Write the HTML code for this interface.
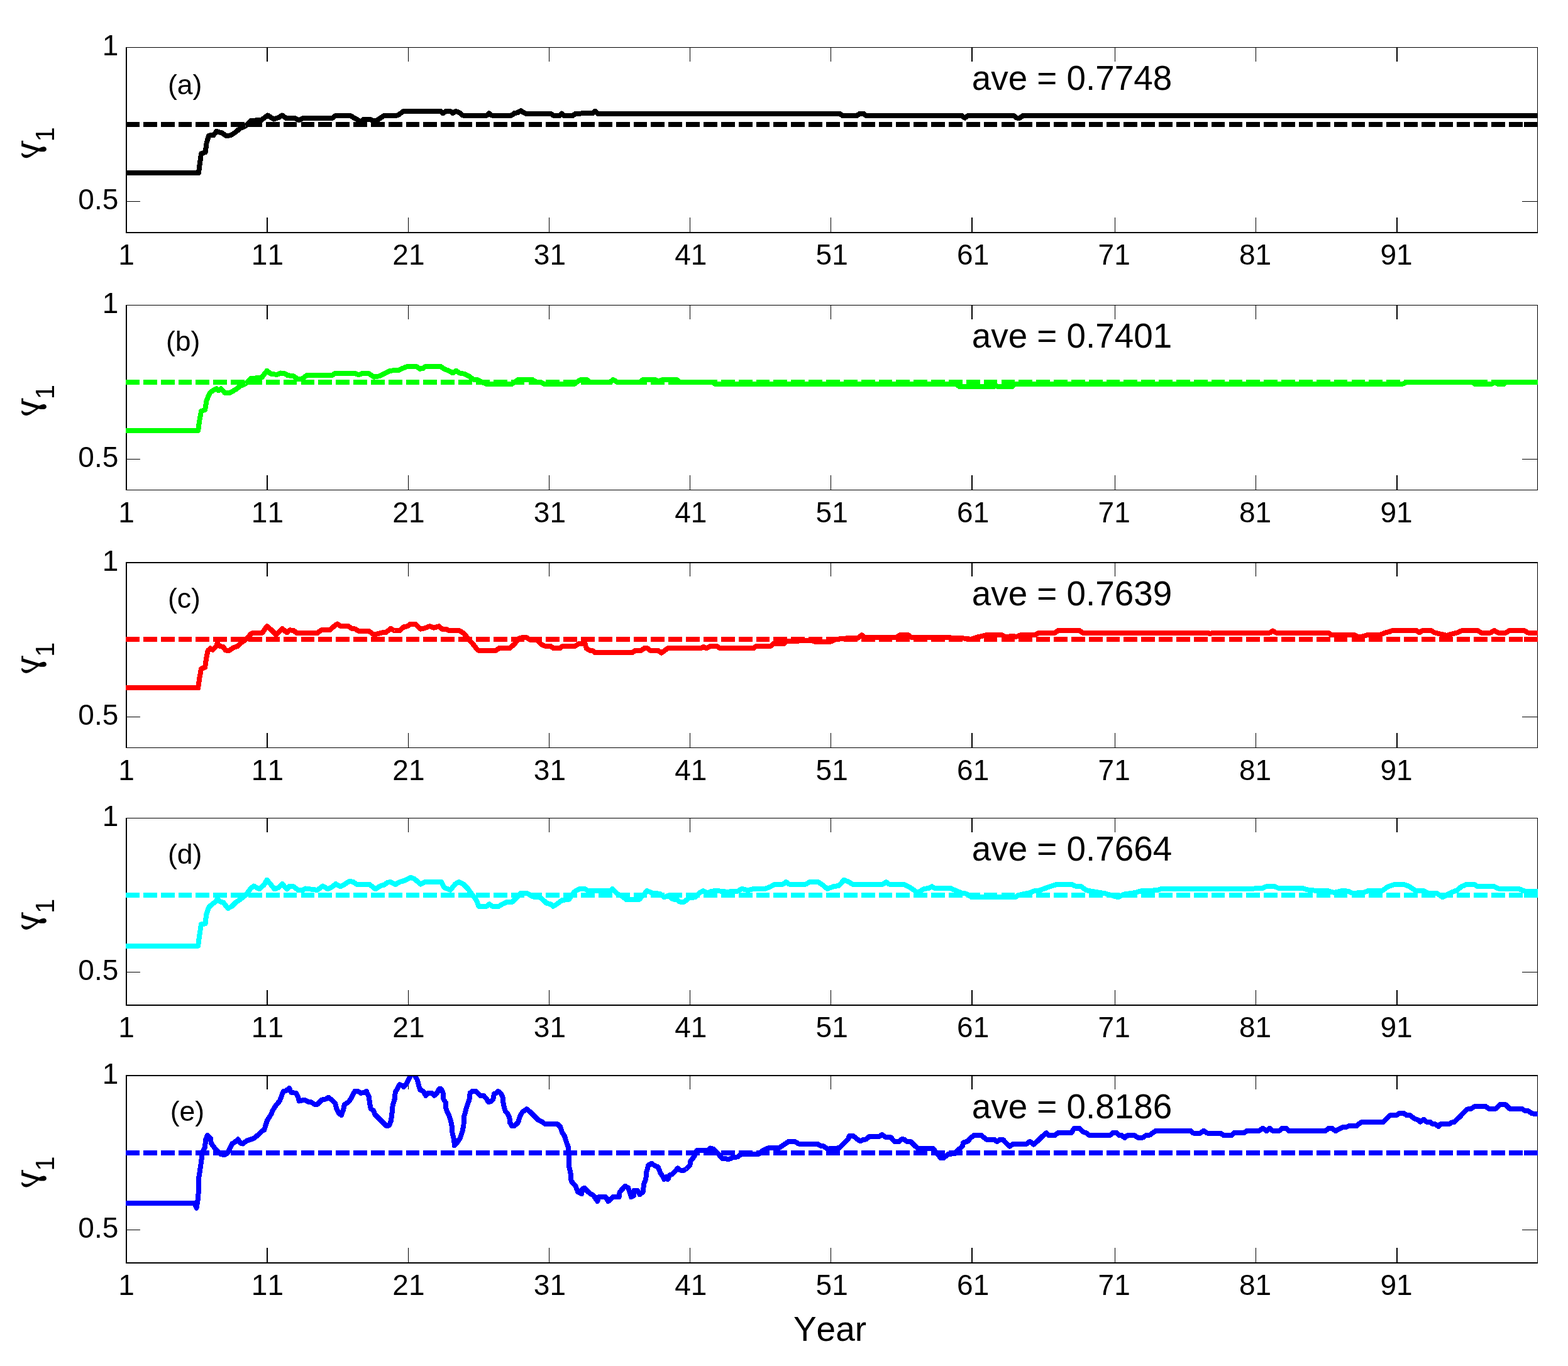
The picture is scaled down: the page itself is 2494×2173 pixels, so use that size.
<!DOCTYPE html>
<html lang="en">
<head>
<meta charset="utf-8">
<title>gamma1 by Year</title>
<style>
html,body{margin:0;padding:0;background:#fff;}
body{width:2494px;height:2173px;overflow:hidden;}
svg{display:block;}
text{font-family:"Liberation Sans",sans-serif;fill:#000;font-kerning:none;}
.tick{font-size:46px;}
.lab{font-size:44.5px;}
.ave{font-size:54.8px;}
.xl{font-size:55px;}
.gam{font-family:"DejaVu Serif","Liberation Serif",serif;font-size:54px;}
.sub{font-size:42px;}
.ax{stroke:#000;fill:none;shape-rendering:crispEdges;}
.tk{stroke:#000;stroke-width:1.5;fill:none;shape-rendering:crispEdges;}
.cv{fill:none;stroke-width:8;stroke-linejoin:round;stroke-linecap:butt;shape-rendering:crispEdges;}
.ds{fill:none;stroke-width:8;stroke-dasharray:21.8 6.05;shape-rendering:crispEdges;}
</style>
</head>
<body>
<svg width="2494" height="2173" viewBox="0 0 2494 2173">
<rect x="0" y="0" width="2494" height="2173" fill="#ffffff"/>
<defs>
<clipPath id="c0"><rect x="200.0" y="76.0" width="2246.0" height="293.0"/></clipPath>
<clipPath id="c1"><rect x="200.0" y="486.0" width="2246.0" height="293.0"/></clipPath>
<clipPath id="c2"><rect x="200.0" y="896.0" width="2246.0" height="293.0"/></clipPath>
<clipPath id="c3"><rect x="200.0" y="1302.0" width="2246.0" height="296.0"/></clipPath>
<clipPath id="c4"><rect x="200.0" y="1712.0" width="2246.0" height="296.0"/></clipPath>
</defs>
<g>
<path class="tk" d="M425.0 75.5v22M425.0 370.0v-24M649.3 75.5v22M649.3 370.0v-24M873.5 75.5v22M873.5 370.0v-24M1097.3 75.5v22M1097.3 370.0v-24M1321.3 75.5v22M1321.3 370.0v-24M1545.9 75.5v22M1545.9 370.0v-24M1773.5 75.5v22M1773.5 370.0v-24M1997.5 75.5v22M1997.5 370.0v-24M2221.8 75.5v22M2221.8 370.0v-24"/>
<path class="tk" style="stroke-width:1" d="M201.0 320.5h22M2445.5 320.5h-25"/>
<path class="ax" stroke-width="1" d="M200.0 75.5H2446.0"/>
<path class="ax" stroke-width="2" d="M200.0 370.0H2446.0"/>
<path class="ax" stroke-width="2" d="M201.0 75.5V370.0"/>
<path class="ax" stroke-width="1" d="M2445.5 75.5V370.0"/>
<g clip-path="url(#c0)">
<path class="ds" stroke="#000000" d="M200.0 197.7H2446.0"/>
<path class="ds" style="stroke-dasharray:none" stroke="#000000" d="M2424.0 197.7H2446.0"/>
<polyline class="cv" stroke="#000000" points="200,274.9 315.9,274.9 320,244.2 326.6,242.3 328.6,227.2 332.2,215.6 339.5,215.1 344.4,209 352.9,211.4 360.2,216.3 367.4,215.1 374.7,210.2 382,204.1 390.5,200.5 399,192 416.1,190.8 425.8,183.5 435.5,189.6 442.8,187.1 448.9,183.5 454.9,187.9 469.5,188.3 475.6,191.3 481.7,188.3 527.9,188.3 533.9,184 557,184 569.2,190.8 574.1,193.7 578.9,189.6 588.6,189.6 594.7,192.7 600.8,190.8 610.5,184 632.4,183.5 642.1,176.9 690,176.9 700.7,176.9 704.3,180.3 709.2,176.9 716.5,176.9 720.1,180.3 725,176.9 729.8,178.6 735.9,183.5 774.8,183.5 778,180.3 781.6,183.5 813.7,183.5 818.6,179.8 823.4,179.3 828.3,176.2 835.6,180.6 875.7,180.6 880.5,184 890.3,184 893.4,180.6 896.8,184 910.9,184 915.8,180.6 942.5,180.3 946.7,176.7 951,180.8 1180,180.8 1335.3,180.8 1340.2,184 1363.2,184 1367.4,180.6 1373,180.6 1377.8,184 1529.7,184 1534.6,187.6 1539.5,184 1612.4,184 1617.3,187.6 1622.1,187.6 1627,184 1670,184 2446,184"/>
</g>
<text class="tick" text-anchor="middle" x="201.0" y="421.0">1</text>
<text class="tick" text-anchor="middle" x="425.4" y="421.0">11</text>
<text class="tick" text-anchor="middle" x="649.9" y="421.0">21</text>
<text class="tick" text-anchor="middle" x="874.4" y="421.0">31</text>
<text class="tick" text-anchor="middle" x="1098.8" y="421.0">41</text>
<text class="tick" text-anchor="middle" x="1323.2" y="421.0">51</text>
<text class="tick" text-anchor="middle" x="1547.7" y="421.0">61</text>
<text class="tick" text-anchor="middle" x="1772.2" y="421.0">71</text>
<text class="tick" text-anchor="middle" x="1996.6" y="421.0">81</text>
<text class="tick" text-anchor="middle" x="2221.1" y="421.0">91</text>
<text class="tick" text-anchor="end" x="188.3" y="88.0">1</text>
<text class="tick" text-anchor="end" x="188.3" y="333.1">0.5</text>
<g transform="translate(0 0.0)">
<text class="gam" text-anchor="end" transform="translate(63 254) rotate(-90) scale(-1 1)">γ</text>
<text class="sub" transform="translate(86 225.5) rotate(-90)">1</text>
</g>
<text class="lab" x="267.0" y="150.3">(a)</text>
<text class="ave" x="1545.8" y="143.2">ave = 0.7748</text>
</g>
<g>
<path class="tk" d="M425.0 485.5v22M425.0 779.5v-24M649.3 485.5v22M649.3 779.5v-24M873.5 485.5v22M873.5 779.5v-24M1097.3 485.5v22M1097.3 779.5v-24M1321.3 485.5v22M1321.3 779.5v-24M1545.9 485.5v22M1545.9 779.5v-24M1773.5 485.5v22M1773.5 779.5v-24M1997.5 485.5v22M1997.5 779.5v-24M2221.8 485.5v22M2221.8 779.5v-24"/>
<path class="tk" style="stroke-width:1" d="M201.0 730.5h22M2445.5 730.5h-25"/>
<path class="ax" stroke-width="1" d="M200.0 485.5H2446.0"/>
<path class="ax" stroke-width="1" d="M200.0 779.5H2446.0"/>
<path class="ax" stroke-width="2" d="M201.0 485.5V779.5"/>
<path class="ax" stroke-width="1" d="M2445.5 485.5V779.5"/>
<g clip-path="url(#c1)">
<path class="ds" stroke="#00ff00" d="M200.0 607.8H2446.0"/>
<path class="ds" style="stroke-dasharray:none" stroke="#00ff00" d="M2424.0 607.8H2446.0"/>
<polyline class="cv" stroke="#00ff00" points="200,684.9 315.2,684.9 316.9,671.3 320,654.2 326.1,651.8 328.6,637.2 333.4,625.6 338.3,621.4 344.4,618.3 348,621.4 351.6,618.3 357.7,625.1 366.2,624.6 374.7,619.7 382,614.1 390.5,610.5 399,602 416.1,600.8 424.6,589.8 430.6,594.7 440.4,595.9 446.4,593.5 452.5,594 457.4,597.1 467.1,598.3 473.2,602.7 480.5,602.7 487.8,597.1 527.9,597.1 533.9,593.5 564.3,593.5 570.4,596.4 576.5,594 586.2,594 594.7,599.6 603.2,598.3 612.9,593.5 620.2,589.8 634.8,588.6 639.7,586.2 649.4,582.5 661.6,582.5 667.6,586.7 672.5,586.2 676.1,583.3 690,583.3 700.7,583 706.7,586.9 714,589.8 720.1,593.5 725.7,589.8 731,593.5 738.3,594.7 745.6,598.3 752.9,603.7 760.2,604.4 767.5,608.1 773.6,611 779.7,611 813.7,611 818.6,607.6 824.6,603.9 846.5,603.9 852.6,607.6 859.9,608.1 866,611.2 913.3,611.2 917,608.1 923.1,604.4 927.9,603.7 934,604.4 937.7,607.8 970.5,607.8 975.3,603.9 981.4,607.8 1017.9,607.8 1022.7,603.9 1042.2,603.9 1047,606.8 1054.3,603.9 1076.2,603.9 1081.1,607.8 1133.3,607.8 1138.2,611.2 1180,611.2 1335.3,611.2 1337.7,610.5 1520,610.5 1526.1,615.1 1580.8,615.1 1583.2,612.9 1586.9,615.1 1610,615.1 1614.8,610.5 1670,610.5 2232.2,610.5 2237.1,607.8 2341.6,607.8 2346.5,611.2 2372,611.2 2378.1,607.8 2382.9,611.2 2391.4,611.2 2395.1,607.8 2446,607.8"/>
</g>
<text class="tick" text-anchor="middle" x="201.0" y="830.5">1</text>
<text class="tick" text-anchor="middle" x="425.4" y="830.5">11</text>
<text class="tick" text-anchor="middle" x="649.9" y="830.5">21</text>
<text class="tick" text-anchor="middle" x="874.4" y="830.5">31</text>
<text class="tick" text-anchor="middle" x="1098.8" y="830.5">41</text>
<text class="tick" text-anchor="middle" x="1323.2" y="830.5">51</text>
<text class="tick" text-anchor="middle" x="1547.7" y="830.5">61</text>
<text class="tick" text-anchor="middle" x="1772.2" y="830.5">71</text>
<text class="tick" text-anchor="middle" x="1996.6" y="830.5">81</text>
<text class="tick" text-anchor="middle" x="2221.1" y="830.5">91</text>
<text class="tick" text-anchor="end" x="188.3" y="498.0">1</text>
<text class="tick" text-anchor="end" x="188.3" y="743.1">0.5</text>
<g transform="translate(0 409.8)">
<text class="gam" text-anchor="end" transform="translate(63 254) rotate(-90) scale(-1 1)">γ</text>
<text class="sub" transform="translate(86 225.5) rotate(-90)">1</text>
</g>
<text class="lab" x="264.0" y="557.8">(b)</text>
<text class="ave" x="1545.8" y="553.2">ave = 0.7401</text>
</g>
<g>
<path class="tk" d="M425.0 895.0v22M425.0 1189.5v-24M649.3 895.0v22M649.3 1189.5v-24M873.5 895.0v22M873.5 1189.5v-24M1097.3 895.0v22M1097.3 1189.5v-24M1321.3 895.0v22M1321.3 1189.5v-24M1545.9 895.0v22M1545.9 1189.5v-24M1773.5 895.0v22M1773.5 1189.5v-24M1997.5 895.0v22M1997.5 1189.5v-24M2221.8 895.0v22M2221.8 1189.5v-24"/>
<path class="tk" style="stroke-width:1" d="M201.0 1140.5h22M2445.5 1140.5h-25"/>
<path class="ax" stroke-width="2" d="M200.0 895.0H2446.0"/>
<path class="ax" stroke-width="1" d="M200.0 1189.5H2446.0"/>
<path class="ax" stroke-width="2" d="M201.0 895.0V1189.5"/>
<path class="ax" stroke-width="1" d="M2445.5 895.0V1189.5"/>
<g clip-path="url(#c2)">
<path class="ds" stroke="#ff0000" d="M200.0 1016.8H2446.0"/>
<path class="ds" style="stroke-dasharray:none" stroke="#ff0000" d="M2424.0 1016.8H2446.0"/>
<polyline class="cv" stroke="#ff0000" points="200,1094.4 315.2,1094.4 316.9,1081.3 320,1063.8 326.1,1061.8 328.1,1047.2 330.5,1035.1 334.6,1031.4 338.3,1033.9 344.4,1027.8 345.6,1022.9 349.2,1027.8 355.3,1029 358.9,1034.6 365,1034.6 371.1,1030.2 377.2,1028.3 383.2,1022.9 391.8,1016.8 399,1008.3 401.5,1007.1 417.3,1006.6 424.6,996.2 431.9,1002.3 439.1,1009.6 448.9,999.8 456.2,1006.4 461,1002.3 467.1,1003 472,1007.1 504.8,1007.1 510.9,1002.3 524.2,1002.3 529.1,998.1 536.4,992.5 541.2,995.7 553.4,995.7 559.5,999.8 565.5,1000.6 569.2,1003.5 586.2,1003.5 594.7,1009.6 600.8,1008.3 608.1,1006.4 614.2,1005.9 621.5,999.8 627.5,1003.5 636,1003 642.1,997.4 648.2,996.2 653.1,992.5 660.3,992.5 668.9,1000.6 676.1,999.1 683.4,996.2 690,998.6 692.2,998.1 698.2,996.2 704.3,1001.5 709.2,1000.6 712.8,1002.7 729.8,1002.7 737.1,1007.1 745.6,1016.8 752.9,1025.4 760.2,1034.6 789.4,1034.6 794.2,1030.9 811.3,1030.9 818.6,1024.1 825.8,1015.6 831.9,1013.7 838,1014.4 842.9,1017.6 853.8,1018.1 861.1,1025.4 867.2,1027.8 875.7,1027.8 880.5,1031.4 890.3,1031.4 895.1,1027.8 914.6,1027.8 920.6,1024.1 930.4,1023.4 932.8,1031.4 937.7,1034.6 942.5,1035.1 946.2,1038.2 1005.7,1038.2 1010.6,1034.6 1020.3,1034.6 1025.2,1030.7 1030,1031.4 1034.9,1035.1 1047,1035.1 1051.9,1038.7 1056.8,1035.1 1062.8,1030.9 1115.1,1030.9 1119.5,1029 1123.6,1031.4 1129.7,1028.3 1140.6,1028.3 1145.5,1031.4 1180,1031.4 1199.2,1030.9 1202.8,1027.8 1225.9,1027.8 1229.6,1024.1 1246.6,1024.1 1250.2,1020.5 1291.5,1018.5 1295.2,1020.5 1321.9,1020.5 1328,1017.6 1340.2,1015.6 1364.5,1015.1 1370.5,1010.3 1376.6,1014.4 1425.2,1014.4 1431.3,1010.3 1444.7,1010.3 1449.5,1013.7 1510.3,1014.4 1534.6,1015.6 1544.3,1016.8 1554.1,1013.7 1568.6,1010.3 1592.9,1009.8 1600.2,1013.7 1607.5,1012 1617.3,1012.7 1624.5,1009.8 1646.4,1009.8 1651.3,1007.1 1670,1007.1 1678.2,1006.6 1683.1,1003 1717.1,1003 1722,1006.6 1921.3,1006.6 1924.9,1008.3 1928.6,1006.6 2019.7,1006.6 2024.6,1003.5 2029.5,1006.6 2112.1,1006.6 2118.2,1010 2153.4,1010 2154.4,1010 2161.7,1013.7 2169,1012 2175.1,1010 2195.8,1009.6 2203,1006.6 2210.3,1004.7 2215.2,1003 2252.9,1003 2257.7,1006.4 2262.6,1003 2276,1003 2282,1006.4 2289.3,1008.3 2301.5,1010.8 2310,1008.3 2317.3,1006.6 2325.8,1003 2350.1,1003 2356.2,1006.6 2370.8,1006.6 2376.8,1003 2382.9,1006.6 2395.1,1006.6 2401.1,1003 2424.2,1003 2430.3,1006.6 2446,1006.6"/>
</g>
<text class="tick" text-anchor="middle" x="201.0" y="1240.5">1</text>
<text class="tick" text-anchor="middle" x="425.4" y="1240.5">11</text>
<text class="tick" text-anchor="middle" x="649.9" y="1240.5">21</text>
<text class="tick" text-anchor="middle" x="874.4" y="1240.5">31</text>
<text class="tick" text-anchor="middle" x="1098.8" y="1240.5">41</text>
<text class="tick" text-anchor="middle" x="1323.2" y="1240.5">51</text>
<text class="tick" text-anchor="middle" x="1547.7" y="1240.5">61</text>
<text class="tick" text-anchor="middle" x="1772.2" y="1240.5">71</text>
<text class="tick" text-anchor="middle" x="1996.6" y="1240.5">81</text>
<text class="tick" text-anchor="middle" x="2221.1" y="1240.5">91</text>
<text class="tick" text-anchor="end" x="188.3" y="907.5">1</text>
<text class="tick" text-anchor="end" x="188.3" y="1152.6">0.5</text>
<g transform="translate(0 819.5)">
<text class="gam" text-anchor="end" transform="translate(63 254) rotate(-90) scale(-1 1)">γ</text>
<text class="sub" transform="translate(86 225.5) rotate(-90)">1</text>
</g>
<text class="lab" x="267.0" y="966.9">(c)</text>
<text class="ave" x="1545.8" y="962.7">ave = 0.7639</text>
</g>
<g>
<path class="tk" d="M425.0 1301.5v22M425.0 1599.0v-24M649.3 1301.5v22M649.3 1599.0v-24M873.5 1301.5v22M873.5 1599.0v-24M1097.3 1301.5v22M1097.3 1599.0v-24M1321.3 1301.5v22M1321.3 1599.0v-24M1545.9 1301.5v22M1545.9 1599.0v-24M1773.5 1301.5v22M1773.5 1599.0v-24M1997.5 1301.5v22M1997.5 1599.0v-24M2221.8 1301.5v22M2221.8 1599.0v-24"/>
<path class="tk" style="stroke-width:1" d="M201.0 1546.5h22M2445.5 1546.5h-25"/>
<path class="ax" stroke-width="1" d="M200.0 1301.5H2446.0"/>
<path class="ax" stroke-width="2" d="M200.0 1599.0H2446.0"/>
<path class="ax" stroke-width="2" d="M201.0 1301.5V1599.0"/>
<path class="ax" stroke-width="1" d="M2445.5 1301.5V1599.0"/>
<g clip-path="url(#c3)">
<path class="ds" stroke="#00ffff" d="M200.0 1423.9H2446.0"/>
<path class="ds" style="stroke-dasharray:none" stroke="#00ffff" d="M2424.0 1423.9H2446.0"/>
<polyline class="cv" stroke="#00ffff" points="200,1504.6 315.2,1504.6 316.9,1490.5 320,1470.3 326.6,1469.3 328.1,1455.2 332.2,1443.1 337.1,1438.7 341.9,1435.3 345.6,1430.4 350.4,1434.6 355.3,1435.8 362.6,1445 368.7,1441.9 374.7,1435.8 382,1430.9 391.8,1423.1 399,1412.7 403.9,1409.5 412.4,1414.4 419.7,1407.8 424.6,1399.8 429.4,1405.4 436.7,1414.4 442.8,1412 448.9,1406.1 456.2,1414.4 461,1409.5 467.1,1410.3 474.4,1416.3 481.7,1416.3 485.3,1413.4 504.8,1415.9 513.3,1409.5 521.8,1414.4 529.1,1410.3 533.9,1406.1 541.2,1410.3 548.5,1406.6 555.8,1401.8 561.9,1403 566.8,1406.6 587.4,1406.6 597.1,1414.4 604.4,1409.5 610.5,1407.8 616.6,1403.7 621.5,1403 628.7,1407.1 636,1403 644.5,1400.5 653.1,1395.7 659.1,1398.1 668.9,1406.6 676.1,1403 690,1403 701.9,1403 706.7,1412 716.5,1415.9 723.8,1406.6 729.8,1403 737.1,1406.6 744.4,1413.9 750.5,1422.4 757.8,1432.1 761.4,1441.9 773.6,1441.9 778.4,1438.2 783.3,1441.9 793,1441.9 799.1,1438.2 805.2,1435.3 814.9,1434.6 822.2,1427.3 828.3,1420.7 838,1420.7 847.7,1426.5 859.9,1427.8 869.6,1437 875.7,1438.2 879.8,1441.9 886.6,1437.7 893.9,1432.1 904.8,1430.9 913.3,1418.8 921.9,1413.9 930.4,1413.9 935.2,1417.1 970.5,1417.1 974.1,1413.9 981.4,1421.7 989.9,1426.1 996,1430.9 1016.7,1430.9 1025.2,1421.7 1028.8,1416.8 1037.3,1420.7 1049.5,1421.7 1056.8,1427.3 1062.8,1424.8 1070.1,1430.4 1076.2,1430.9 1081.1,1434.6 1088.4,1434.6 1095.7,1428.5 1105.4,1427.3 1112.7,1420 1118.7,1417.1 1124.8,1420.7 1132.1,1417.6 1141.8,1417.1 1156.4,1418.8 1173.4,1417.6 1180,1413.9 1189.4,1416.3 1199.2,1413.9 1216.2,1414.4 1225.9,1410.3 1233.2,1406.6 1245.4,1406.6 1250.2,1403 1255.1,1406.6 1281.8,1406.6 1287.9,1403 1301.3,1403 1308.6,1407.8 1315.8,1413.9 1325.6,1410.3 1334.1,1409 1342.6,1399.8 1349.9,1403 1356,1406.6 1404.6,1406.6 1409.4,1403 1414.3,1406.6 1437.4,1406.6 1447.1,1411.5 1459.3,1420 1469,1414.4 1477.5,1412.7 1482.3,1410.3 1487.2,1413.4 1512.7,1413.4 1522.5,1417.6 1529.7,1420.7 1537,1421.7 1545.5,1427.3 1614.8,1427.3 1619.7,1424.1 1629.4,1421.7 1636.7,1420.7 1644,1417.6 1653.7,1416.3 1663.4,1412.7 1670,1410.3 1681.9,1406.6 1703.8,1406.6 1711,1409.8 1719.6,1410.3 1728.1,1416.3 1735.4,1417.6 1757.2,1421.2 1769.4,1424.8 1777.9,1427.3 1788.8,1422.4 1805.8,1420 1815.6,1417.1 1839.9,1416.3 1847.2,1413.9 1951.7,1413.9 2007.6,1413.4 2014.9,1409.8 2027,1409.8 2034.3,1413.4 2073.2,1413.4 2082.9,1416.3 2112.1,1417.1 2121.8,1420 2134,1417.1 2143.7,1417.6 2151,1420.7 2154.4,1420.7 2169,1420 2176.3,1417.1 2198.2,1417.1 2207.9,1410.3 2217.6,1407.1 2233.4,1407.1 2241.9,1410.3 2251.7,1417.1 2263.8,1417.1 2271.1,1420.7 2285.7,1421.2 2294.9,1427.3 2307.6,1420 2317.3,1416.3 2324.6,1410.3 2331.9,1407.1 2345.2,1407.1 2350.1,1410.3 2376.8,1410.3 2385.3,1414.4 2416.9,1414.4 2425.5,1417.6 2446,1417.6"/>
</g>
<text class="tick" text-anchor="middle" x="201.0" y="1650.0">1</text>
<text class="tick" text-anchor="middle" x="425.4" y="1650.0">11</text>
<text class="tick" text-anchor="middle" x="649.9" y="1650.0">21</text>
<text class="tick" text-anchor="middle" x="874.4" y="1650.0">31</text>
<text class="tick" text-anchor="middle" x="1098.8" y="1650.0">41</text>
<text class="tick" text-anchor="middle" x="1323.2" y="1650.0">51</text>
<text class="tick" text-anchor="middle" x="1547.7" y="1650.0">61</text>
<text class="tick" text-anchor="middle" x="1772.2" y="1650.0">71</text>
<text class="tick" text-anchor="middle" x="1996.6" y="1650.0">81</text>
<text class="tick" text-anchor="middle" x="2221.1" y="1650.0">91</text>
<text class="tick" text-anchor="end" x="188.3" y="1314.0">1</text>
<text class="tick" text-anchor="end" x="188.3" y="1559.1">0.5</text>
<g transform="translate(0 1227.5)">
<text class="gam" text-anchor="end" transform="translate(63 254) rotate(-90) scale(-1 1)">γ</text>
<text class="sub" transform="translate(86 225.5) rotate(-90)">1</text>
</g>
<text class="lab" x="267.0" y="1373.7">(d)</text>
<text class="ave" x="1545.8" y="1369.2">ave = 0.7664</text>
</g>
<g>
<path class="tk" d="M425.0 1711.0v22M425.0 2009.0v-24M649.3 1711.0v22M649.3 2009.0v-24M873.5 1711.0v22M873.5 2009.0v-24M1097.3 1711.0v22M1097.3 2009.0v-24M1321.3 1711.0v22M1321.3 2009.0v-24M1545.9 1711.0v22M1545.9 2009.0v-24M1773.5 1711.0v22M1773.5 2009.0v-24M1997.5 1711.0v22M1997.5 2009.0v-24M2221.8 1711.0v22M2221.8 2009.0v-24"/>
<path class="tk" style="stroke-width:1" d="M201.0 1956.5h22M2445.5 1956.5h-25"/>
<path class="ax" stroke-width="2" d="M200.0 1711.0H2446.0"/>
<path class="ax" stroke-width="2" d="M200.0 2009.0H2446.0"/>
<path class="ax" stroke-width="2" d="M201.0 1711.0V2009.0"/>
<path class="ax" stroke-width="1" d="M2445.5 1711.0V2009.0"/>
<g clip-path="url(#c4)">
<path class="ds" stroke="#0000ff" d="M200.0 1834.2H2446.0"/>
<path class="ds" style="stroke-dasharray:none" stroke="#0000ff" d="M2424.0 1834.2H2446.0"/>
<polyline class="cv" stroke="#0000ff" points="200,1913.9 309.6,1913.9 312.5,1921.7 315.4,1904.2 316,1875 319.3,1853.6 322.2,1832.2 326.1,1824.5 327.1,1812.8 330,1806 334.9,1810.8 335.8,1818.6 340.7,1825.4 345.6,1830.3 351.4,1836.1 357.2,1837.1 362.1,1834.2 366,1826.4 368.9,1819.6 373.8,1816.7 378.6,1812.4 382.5,1818.6 386.4,1819.6 392.2,1814.7 398.1,1812.8 403.9,1810.8 409.7,1806 415.6,1800.1 420.4,1797.2 422.4,1790.4 425.3,1781.7 431.1,1772.9 434,1766.1 438.9,1758.3 444.7,1751.5 447.7,1743.8 450.6,1736 455.4,1735 459.9,1731.1 463.2,1737.9 471,1738.9 473.9,1744.7 475.9,1751.5 479.7,1750.6 484.6,1749.6 489.5,1752.5 495.3,1753.5 500.2,1756.8 505,1756.8 508.9,1752.5 511.8,1749.6 517.7,1748.6 522.5,1745.7 527.4,1749.6 533.2,1755.4 535.2,1763.2 539.1,1771 542.9,1773.9 545.9,1766.1 547.8,1757.4 553.6,1753.5 558.5,1747.6 561.4,1740.8 564.3,1736 569.2,1736 574.1,1738.9 578.9,1737.9 582.8,1736 586.7,1744.7 588.6,1758.3 590,1764.2 593.6,1766.1 596.5,1772.9 603.3,1779.7 609.2,1785.6 615,1791.4 618.9,1790.4 621.8,1783.6 623.2,1773.9 624.7,1758.3 628.2,1746.7 628.6,1737.9 632.5,1731.1 635.4,1725.3 640.3,1727.2 642.2,1729.2 647.1,1723.3 651,1714.6 654.9,1707.8 659.7,1710.7 663.6,1717.5 666.5,1728.2 668.5,1734 673.3,1736 677.2,1742.8 681.1,1738.9 687,1738.9 690.8,1742.8 695.7,1737.9 698.6,1732.1 701.5,1732.1 704.5,1737.9 705.4,1748.6 709.3,1754.4 709.5,1764.2 714.2,1774.9 717.1,1783.6 719,1793.3 719.6,1803.1 722,1812.8 722.9,1822.5 727.8,1816.7 731.7,1810.8 735.6,1799.2 737.5,1789.5 737.7,1777.8 741.4,1764.2 745.3,1752.5 747.2,1746.7 747.6,1738.9 751.1,1736 757,1736 763.8,1742.8 769.6,1743.2 774.5,1748.6 776.4,1752.9 780.3,1752.5 784.2,1748.6 786.1,1739.9 789,1738.9 792.3,1736 796.8,1739.9 799.7,1745.7 800.7,1756.4 803.6,1767.1 807.5,1771.9 810.4,1777.8 811,1785.6 814.3,1791.4 818.2,1791 824,1785.6 827,1775.8 830.9,1769 837.7,1764.2 843.5,1769 852.2,1777.8 856.1,1781.7 862,1784.6 866.8,1787.9 886.3,1787.9 891.1,1792.4 894,1801.1 897.9,1807 900.9,1816.7 904.4,1826.4 905.1,1855.6 907.7,1867.2 908.6,1878.9 915.4,1886.7 919.3,1896.4 925.2,1899.3 926.1,1891.5 929.1,1889.6 935.9,1896.4 939.7,1899.3 943.6,1901.3 947.5,1907.1 950.4,1911 952.4,1904.2 963.1,1903.8 967.4,1911 974.7,1904.2 980,1903.8 984.6,1904.2 985.6,1896.4 994.3,1886.7 999.2,1889.6 1002.1,1898.3 1004,1904.2 1007.9,1902.2 1008.9,1893.5 1013.8,1893.5 1017.6,1900.3 1022.5,1896.4 1024.4,1882.8 1027.4,1875 1027.9,1866.3 1031.3,1853.6 1036.1,1850.7 1041.9,1854.6 1046.8,1856.5 1050.1,1865.3 1055.6,1874 1056.5,1876 1059.5,1872.1 1062.4,1876 1065.3,1869.2 1069.2,1868.2 1077.9,1858.5 1081.8,1861.4 1086.7,1862 1091.5,1859.5 1097.4,1853.6 1098.3,1846.8 1104.2,1840 1108.1,1830.3 1113.9,1829.9 1125.6,1829.9 1129.5,1826.4 1135.3,1828.3 1142.1,1835.1 1148.9,1842.9 1159.6,1843.9 1166.4,1841 1173.2,1840.4 1179,1836.1 1206.3,1836.1 1213.1,1830.3 1221.8,1826.4 1238.4,1826.4 1246.1,1821.5 1253.9,1816.1 1263.6,1815.7 1270.4,1819.6 1300.6,1819.6 1304.5,1822.5 1310.3,1823.5 1318.1,1829.3 1320,1826.8 1334.6,1826.4 1343.4,1817.6 1349.2,1811.8 1351.1,1806.6 1356,1806.6 1360.9,1809.9 1366.7,1814.7 1370,1814.7 1373.6,1812.8 1377.5,1812.4 1382.4,1808.3 1397.9,1808.3 1402.8,1805 1408.6,1808.9 1416.4,1808.9 1423.2,1816.1 1430,1816.1 1433.9,1812.4 1437.8,1812.4 1441.7,1815.7 1448.5,1816.1 1455.3,1822.9 1460.1,1826.8 1483.5,1826.8 1490.3,1834.2 1496.1,1842 1501,1842 1507.8,1836.1 1518.5,1835.1 1525.3,1828.3 1531.1,1822.9 1532.1,1817.6 1538.9,1815.7 1544.7,1809.5 1549.6,1805.6 1560.3,1805.6 1564.2,1808.9 1569,1812.8 1581.7,1812.8 1585.6,1816.1 1590.4,1812.8 1595.3,1812.8 1601.1,1819 1606,1823.5 1611.8,1819.6 1633.2,1819.6 1638.1,1815.7 1643.9,1820.6 1649.7,1815.7 1657.5,1807.9 1660.4,1805.6 1664.3,1802.1 1668.2,1806 1677.9,1806 1682.8,1802.1 1704.2,1802.1 1708.1,1795.3 1716.8,1794.9 1723.6,1801.1 1727.5,1802.1 1732.4,1806 1760,1806 1765.6,1806 1770.4,1801.5 1775.3,1801.5 1780.1,1806 1784,1806 1788.9,1809.9 1793.8,1806 1804.4,1806 1809.3,1809.5 1818.1,1809.5 1822.9,1806 1828.8,1805.6 1833.6,1802.1 1838.5,1798.8 1893.9,1798.8 1897.8,1802.5 1909.5,1802.5 1914.3,1798.8 1920.2,1802.5 1941.5,1802.5 1946.4,1806.4 1958.1,1806.4 1962.9,1802.1 1979.5,1801.7 1983.3,1798.8 2002.8,1798.8 2008.6,1794.7 2014.5,1799.2 2019.3,1794.7 2024.2,1798.8 2034.9,1798.8 2039.7,1794.7 2045.6,1794.7 2050.4,1799.2 2107.8,1799.2 2113.6,1794.7 2118.5,1794.7 2124.3,1799.2 2131.1,1795.3 2136,1793 2140.9,1793.3 2144.7,1791.4 2150,1791 2157.2,1791.4 2165,1785.2 2200,1785.2 2210.7,1774.3 2221.4,1773.9 2226.2,1770.6 2232.1,1770.6 2236.9,1773.9 2242.8,1774.3 2249.6,1779.3 2255.4,1781.7 2259.3,1784.6 2264.2,1780.7 2269,1784.6 2274.8,1785 2278.7,1788.1 2283.6,1788.5 2287.9,1792 2291.4,1788.1 2305,1788.1 2308.9,1785.6 2313.7,1784.6 2323.5,1774.9 2333.2,1764.6 2340,1763.8 2344.9,1760.3 2363.3,1760.3 2369.2,1764.2 2378.9,1763.8 2385.7,1757 2394.4,1757 2401.2,1763.8 2420.7,1763.8 2425.6,1767.1 2431.4,1767.5 2436.2,1771 2442.1,1772.3 2446,1771.6"/>
</g>
<text class="tick" text-anchor="middle" x="201.0" y="2060.0">1</text>
<text class="tick" text-anchor="middle" x="425.4" y="2060.0">11</text>
<text class="tick" text-anchor="middle" x="649.9" y="2060.0">21</text>
<text class="tick" text-anchor="middle" x="874.4" y="2060.0">31</text>
<text class="tick" text-anchor="middle" x="1098.8" y="2060.0">41</text>
<text class="tick" text-anchor="middle" x="1323.2" y="2060.0">51</text>
<text class="tick" text-anchor="middle" x="1547.7" y="2060.0">61</text>
<text class="tick" text-anchor="middle" x="1772.2" y="2060.0">71</text>
<text class="tick" text-anchor="middle" x="1996.6" y="2060.0">81</text>
<text class="tick" text-anchor="middle" x="2221.1" y="2060.0">91</text>
<text class="tick" text-anchor="end" x="188.3" y="1723.5">1</text>
<text class="tick" text-anchor="end" x="188.3" y="1968.6">0.5</text>
<g transform="translate(0 1637.2)">
<text class="gam" text-anchor="end" transform="translate(63 254) rotate(-90) scale(-1 1)">γ</text>
<text class="sub" transform="translate(86 225.5) rotate(-90)">1</text>
</g>
<text class="lab" x="270.8" y="1782.6">(e)</text>
<text class="ave" x="1545.8" y="1778.7">ave = 0.8186</text>
</g>
<text class="xl" text-anchor="middle" x="1320.0" y="2133.0">Year</text>
</svg>
</body>
</html>
